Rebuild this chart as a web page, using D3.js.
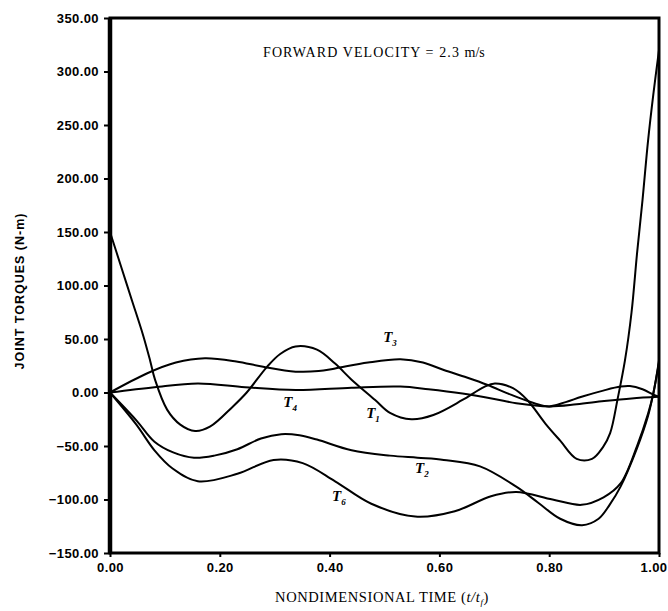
<html>
<head>
  <meta charset="utf-8">
  <style>
    body { margin: 0; background: #fff; }
    .tick text { font-family: "Liberation Sans", sans-serif; font-weight: bold; font-size: 13px; letter-spacing: 0.4px; }
  </style>
</head>
<body>
  <svg></svg>
  <script src="https://d3js.org/d3.v7.min.js"></script>
  <script>
    let width = 668, height = 611;

    // curve samples: [t/tf, torque N-m]
    let t1 = [[0, 150], [0.02, 118], [0.04, 86], [0.06, 54], [0.073, 30], [0.082, 12], [0.104, -16], [0.128, -30],
      [0.155, -36], [0.182, -32], [0.224, -13], [0.249, 0], [0.286, 24], [0.31, 36], [0.338, 43], [0.377, 40],
      [0.41, 27], [0.44, 12], [0.483, -7], [0.51, -19], [0.549, -25], [0.589, -21], [0.642, -7], [0.681, 5],
      [0.701, 8.5], [0.734, 4], [0.76, -7], [0.793, -29], [0.82, -45], [0.85, -62], [0.878, -62], [0.898, -51],
      [0.911, -38], [0.925, -5], [0.938, 30], [0.95, 75], [0.96, 130], [0.97, 180], [0.98, 235], [0.99, 280], [1.0, 320]];
    let t2 = [[0, 0], [0.048, -26], [0.081, -46], [0.115, -56], [0.153, -61], [0.19, -59], [0.232, -53], [0.275, -43],
      [0.312, -39], [0.345, -40], [0.377, -44], [0.44, -54], [0.51, -59], [0.56, -61], [0.608, -63], [0.674, -69],
      [0.74, -88], [0.78, -103], [0.82, -118], [0.86, -124], [0.89, -118], [0.91, -105], [0.93, -88], [0.96, -52],
      [0.98, -22], [0.99, 0], [1.0, 28]];
    let t3 = [[0, 0], [0.068, 18], [0.12, 28], [0.173, 32], [0.23, 29], [0.279, 24], [0.338, 19.5], [0.38, 20],
      [0.41, 22.5], [0.47, 28], [0.529, 31], [0.57, 28], [0.608, 21], [0.65, 14], [0.688, 7], [0.73, -2],
      [0.773, -10], [0.8, -13], [0.83, -9], [0.859, -4], [0.9, 2], [0.93, 5.5], [0.947, 6], [0.97, 3], [0.99, -2], [1.0, -4]];
    let t4 = [[0, 0], [0.081, 5], [0.16, 8.5], [0.246, 5], [0.338, 2.3], [0.44, 4.5], [0.529, 5.5], [0.58, 3],
      [0.642, -1], [0.7, -6], [0.74, -10], [0.8, -13], [0.85, -11], [0.9, -8], [0.95, -5.5], [1.0, -4]];
    let t6 = [[0, 0], [0.048, -30], [0.081, -54], [0.114, -71], [0.16, -83], [0.232, -76], [0.298, -63], [0.351, -66],
      [0.41, -83], [0.476, -104], [0.556, -116], [0.628, -111], [0.694, -97], [0.74, -93], [0.806, -100],
      [0.859, -105], [0.899, -98], [0.93, -85], [0.96, -50], [0.98, -20], [0.99, 0], [1.0, 30]];

    let seriesNames = ["1", "2", "3", "4", "6"];
    let seriesData = [t1, t2, t3, t4, t6];
    let labelAt = [[0.479, -24], [0.568, -75], [0.51, 47], [0.328, -14], [0.417, -101]];

    let yTicks = [-150, -100, -50, 0, 50, 100, 150, 200, 250, 300, 350];
    let xTicks = [0, 0.2, 0.4, 0.6, 0.8, 1.0];

    let svg = d3.select("svg")
      .attr("width", width)
      .attr("height", height)
      .style("background", "#fff");

    let x = d3.scaleLinear().domain([0, 1]).range([110, 659]);
    let y = d3.scaleLinear().domain([-150, 350]).range([553, 18]);

    // axes
    svg.append("g")
      .attr("transform", "translate(110,0)")
      .call(d3.axisLeft(y).tickValues(yTicks).tickFormat(d3.format(".2f")).tickSize(6).tickPadding(5))
      .call(g => g.select(".domain").remove())
      .call(g => g.selectAll("line").attr("stroke-width", 2));

    svg.append("g")
      .attr("transform", "translate(0,553)")
      .call(d3.axisBottom(x).tickValues(xTicks).tickFormat(d3.format(".2f")).tickSize(4).tickPadding(6))
      .call(g => g.select(".domain").remove())
      .call(g => g.selectAll("line").attr("stroke-width", 2))
      .call(g => g.selectAll(".tick:last-of-type text").attr("text-anchor", "end").attr("dx", 8));

    // frame
    svg.append("rect")
      .attr("x", x(0)).attr("y", y(350))
      .attr("width", x(1) - x(0)).attr("height", y(-150) - y(350))
      .attr("fill", "none").attr("stroke", "#000").attr("stroke-width", 3);
    svg.append("line")
      .attr("x1", x(0)).attr("x2", x(0))
      .attr("y1", y(350)).attr("y2", y(-150))
      .attr("stroke", "#000").attr("stroke-width", 4.5);

    let line = d3.line()
      .x(d => x(d[0]))
      .y(d => y(d[1]))
      .curve(d3.curveCatmullRom);

    svg.append("g")
      .selectAll("path")
      .data(seriesData)
      .enter()
      .append("path")
      .attr("d", line)
      .attr("fill", "none")
      .attr("stroke", "#000")
      .attr("stroke-width", 2);

    // curve labels
    let lab = svg.append("g")
      .selectAll("text")
      .data(seriesNames)
      .enter()
      .append("text")
      .attr("x", (d, i) => x(labelAt[i][0]))
      .attr("y", (d, i) => y(labelAt[i][1]))
      .attr("text-anchor", "middle")
      .style("font-family", "Liberation Serif, serif")
      .style("font-style", "italic")
      .style("font-weight", "bold")
      .style("font-size", "15px");
    lab.append("tspan").text("T");
    lab.append("tspan").attr("dy", 4).style("font-size", "9px").text(d => d);

    // annotation
    let ann = svg.append("text")
      .attr("x", 263).attr("y", 57)
      .style("font-family", "Liberation Serif, serif")
      .style("font-size", "14px")
      .style("letter-spacing", "1.1px");
    ann.append("tspan").text("FORWARD VELOCITY = 2.3 ");
    ann.append("tspan").style("letter-spacing", "0px").text("m/s");

    // axis titles
    svg.append("text")
      .attr("transform", "translate(24,291) rotate(-90)")
      .attr("text-anchor", "middle")
      .style("font-family", "Liberation Sans, sans-serif")
      .style("font-weight", "bold")
      .style("font-size", "12.5px")
      .style("letter-spacing", "1px")
      .text("JOINT TORQUES (N-m)");

    let xt = svg.append("text")
      .attr("x", 382).attr("y", 602)
      .attr("text-anchor", "middle")
      .style("font-family", "Liberation Serif, serif")
      .style("font-size", "14.5px")
      .style("letter-spacing", "0.6px");
    xt.append("tspan").text("NONDIMENSIONAL TIME (");
    xt.append("tspan").style("font-style", "italic").text("t/t");
    xt.append("tspan").style("font-style", "italic").style("font-size", "9px").attr("dy", 3).text("f");
    xt.append("tspan").attr("dy", -3).text(")");
  </script>
</body>
</html>
